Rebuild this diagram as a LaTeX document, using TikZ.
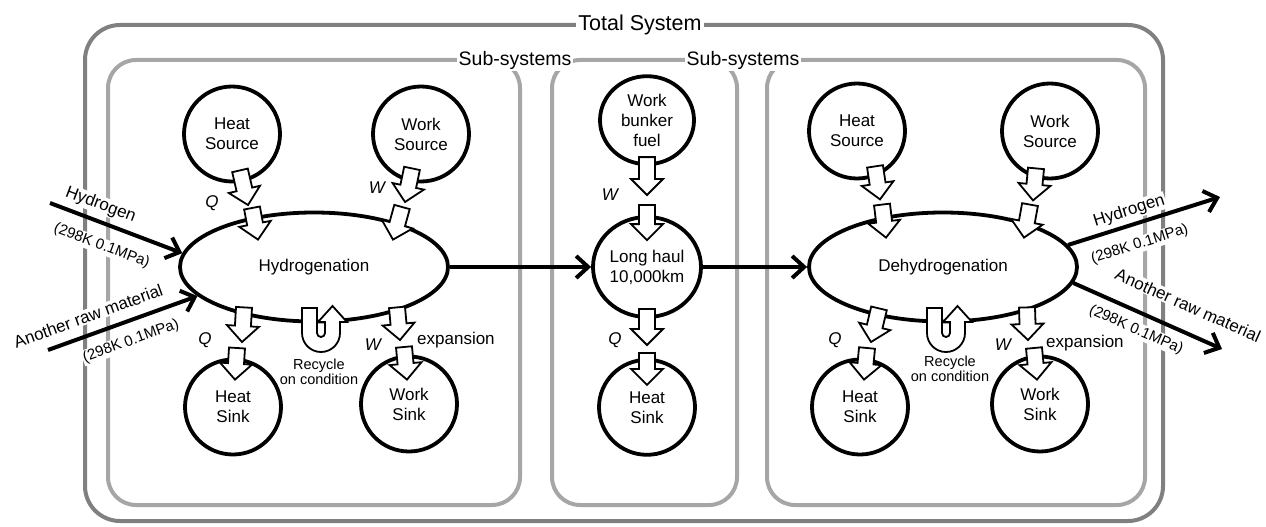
\documentclass[tikz,border=0pt]{standalone}
\usepackage{fontspec}
\setmainfont{Liberation Sans}
\usepackage{tikz}
\usetikzlibrary{positioning}
\usetikzlibrary{shapes.geometric}
\usetikzlibrary{arrows.meta}
\usetikzlibrary{calc}
\usepackage{xcolor}

\definecolor{totalgray}{RGB}{128,128,128}
\definecolor{subgray}{RGB}{166,166,166}

\newcommand{\titlesize}{\fontsize{21.5pt}{24pt}\selectfont}
\newcommand{\subsize}{\fontsize{19.5pt}{22pt}\selectfont}
\newcommand{\bodysize}{\fontsize{17pt}{20pt}\selectfont}
\newcommand{\condsize}{\fontsize{15pt}{17pt}\selectfont}
\newcommand{\notesize}{\fontsize{14.5pt}{15.5pt}\selectfont}

% hollow block arrow, tail #1 to tip #2
\newcommand{\hollow}[2]{%
	\coordinate (ha-t) at (#1);
	\coordinate (ha-h) at (#2);
	\draw[blockarrow] ($(ha-t)!8pt!90:(ha-h)$)
		-- ($(ha-h)!16pt!(ha-t)!8pt!90:(ha-h)$)
		-- ($(ha-h)!16pt!(ha-t)!16pt!90:(ha-h)$)
		-- (ha-h)
		-- ($(ha-h)!16pt!(ha-t)!16pt!-90:(ha-h)$)
		-- ($(ha-h)!16pt!(ha-t)!8pt!-90:(ha-h)$)
		-- ($(ha-t)!8pt!-90:(ha-h)$) -- cycle;}

% hollow u-turn arrow around #1
\newcommand{\uturn}[1]{%
	\draw[blockarrow, shift={(#1)}] (-19,-25) -- (-19,0)
		arc[start angle=180, end angle=0, radius=19] -- (19,-11) -- (26,-11)
		-- (11.5,-27) -- (-3,-11) -- (4,-11) -- (4,0)
		arc[start angle=0, end angle=180, radius=4] -- (-4,-25) -- cycle;}

\begin{document}
\begin{tikzpicture}[
		x=1pt, y=-1pt,
		% Style definitions - pixel grid, y grows downwards
		totalbox/.style={draw=totalgray, line width=4pt, rounded corners=35pt},
		subbox/.style={draw=subgray, line width=4pt, rounded corners=28pt},
		boxtitle/.style={fill=white, inner sep=2pt, font=\subsize},
		process/.style={draw, ellipse, line width=3.8pt, inner sep=0pt, align=center, font=\bodysize, minimum width=268pt, minimum height=109pt},
		reservoir/.style={draw, ellipse, line width=3.8pt, inner sep=0pt, align=center, font=\bodysize, minimum width=96pt, minimum height=95pt},
		blockarrow/.style={draw, fill=white, line width=1.8pt, line join=miter},
		flow/.style={-{Straight Barb[length=12pt, width=22pt]}, line width=4pt},
		stream/.style={sloped, fill=white, inner sep=1pt, font=\bodysize},
		cond/.style={sloped, fill=white, inner sep=1pt, font=\condsize},
		energy/.style={font=\bodysize\itshape, inner sep=0pt},
		note/.style={font=\bodysize, inner sep=0pt},
		recycle/.style={font=\notesize, align=center, inner sep=0pt},
		]
		\useasboundingbox (0,0) rectangle (1266,527);

		% === System boundaries ===
		\draw[totalbox] (85,25) rectangle (1163,521);
		\draw[subbox] (108,60) rectangle (520,505);
		\draw[subbox] (552,60) rectangle (737,505);
		\draw[subbox] (767,60) rectangle (1145,505);
		\node[boxtitle, font=\titlesize] (total) at (640,25) {Total System};
		\node[boxtitle] (sub-a) at (515,60) {Sub-systems};
		\node[boxtitle] (sub-b) at (743,60) {Sub-systems};

		% === Sub-system A: hydrogenation ===
		\node[process] (hydro) at (314,267) {Hydrogenation};
		\node[reservoir] (heatsrcA) at (232,134) {Heat\\Source};
		\node[reservoir] (worksrcA) at (421,134) {Work\\Source};
		\node[reservoir] (heatsinkA) at (233,407) {Heat\\Sink};
		\node[reservoir] (worksinkA) at (409,404) {Work\\Sink};

		% === Sub-system B: transport ===
		\node[reservoir, minimum width=108pt, minimum height=100pt] (haul) at (647,267) {Long haul\\10,000km};
		\node[reservoir, minimum width=94pt, minimum height=88pt, above=49pt of haul] (fuel) {Work\\bunker\\fuel};
		\node[reservoir, below=39pt of haul] (heatsinkB) {Heat\\Sink};

		% === Sub-system C: dehydrogenation ===
		\node[process] (dehydro) at (943,267) {Dehydrogenation};
		\node[reservoir] (heatsrcC) at (857,131) {Heat\\Source};
		\node[reservoir] (worksrcC) at (1050,131) {Work\\Source};
		\node[reservoir] (heatsinkC) at (860,407) {Heat\\Sink};
		\node[reservoir] (worksinkC) at (1040,404) {Work\\Sink};

		% === Material flows ===
		\coordinate (h2in) at (50,203);
		\coordinate (rawin) at (48,350);
		\coordinate (h2out) at (1220,197);
		\coordinate (rawout) at (1222,349);
		\draw[flow] (h2in) -- node[stream, above=5pt, pos=0.34] (h2in-lbl) {Hydrogen}
			node[cond, below=12pt, pos=0.45] (h2in-cond) {(298K 0.1MPa)} (hydro.174);
		\draw[flow] (rawin) -- node[stream, above=9pt, pos=0.31] (rawin-lbl) {Another raw material}
			node[cond, below=10pt, pos=0.51] (rawin-cond) {(298K 0.1MPa)} (hydro.194);
		\draw[flow] (hydro) -- (haul);
		\draw[flow] (haul) -- (dehydro);
		\draw[flow] (dehydro.10) -- node[stream, above=3pt, pos=0.43] (h2out-lbl) {Hydrogen}
			node[cond, below=11pt, pos=0.43] (h2out-cond) {(298K 0.1MPa)} (h2out);
		\draw[flow] (dehydro.-7) -- node[stream, above=17pt, pos=0.70] (rawout-lbl) {Another raw material}
			node[cond, below=7.5pt, pos=0.47] (rawout-cond) {(298K 0.1MPa)} (rawout);

		% === Energy labels ===
		\node[energy] (qA) at (212,203) {Q};
		\node[energy] (wA) at (377,188) {W};
		\node[energy] (qoA) at (205,340) {Q};
		\node[energy] (woA) at (373,345) {W};
		\node[energy] (wB) at (610,195) {W};
		\node[energy] (qB) at (615,340) {Q};
		\node[energy] (qC) at (835,340) {Q};
		\node[energy] (wC) at (1003,345) {W};
		\node[note, anchor=west] (expA) at (417,340) {expansion};
		\node[note, anchor=west] (expC) at (1046,343) {expansion};

		% === Energy flows A ===
		\hollow{$(heatsrcA.south)+(8,-13)$}{$(qA)+(36,2)$}
		\hollow{$(qA)+(40,5)$}{$(hydro.north)+(-56,29)$}
		\hollow{$(worksrcA.south)+(-9,-15)$}{$(wA)+(28,14)$}
		\hollow{$(wA)+(25,19)$}{$(hydro.north)+(79,29)$}
		\hollow{$(hydro.south)+(-70,-16)$}{$(qoA)+(37,2)$}
		\hollow{$(qoA)+(32,8)$}{$(heatsinkA.north)+(2,22)$}
		\hollow{$(hydro.south)+(83,-16)$}{$(woA)+(27,-5)$}
		\hollow{$(woA)+(31,2)$}{$(worksinkA.north)+(-2,25)$}

		% === Energy flows B ===
		\hollow{$(fuel.south)+(0,-9)$}{$(wB)+(37,0)$}
		\hollow{$(wB)+(37,10)$}{$(haul.north)+(0,25)$}
		\hollow{$(haul.south)+(0,-10)$}{$(qB)+(32,5)$}
		\hollow{$(qB)+(32,13)$}{$(heatsinkB.north)+(0,27)$}

		% === Energy flows C ===
		\hollow{$(heatsrcC.south)+(18,-14)$}{$(heatsrcC.south)+(23,19)$}
		\hollow{$(dehydro.north)+(-61,-6)$}{$(dehydro.north)+(-57,27)$}
		\hollow{$(worksrcC.south)+(-14,-12)$}{$(worksrcC.south)+(-17,20)$}
		\hollow{$(dehydro.north)+(87,-6)$}{$(dehydro.north)+(81,27)$}
		\hollow{$(dehydro.south)+(-64,-15)$}{$(qC)+(36,2)$}
		\hollow{$(qC)+(32,8)$}{$(heatsinkC.north)+(4,22)$}
		\hollow{$(dehydro.south)+(84,-16)$}{$(wC)+(25,-5)$}
		\hollow{$(wC)+(31,3)$}{$(worksinkC.north)+(-3,25)$}

		% === Recycle loops ===
		\coordinate (recA) at (321,333);
		\coordinate (recC) at (946,333);
		\uturn{recA}
		\uturn{recC}
		\node[recycle] (recA-txt) at (319,372) {Recycle\\on condition};
		\node[recycle] (recC-txt) at (950,369) {Recycle\\on condition};

	\end{tikzpicture}
\end{document}
